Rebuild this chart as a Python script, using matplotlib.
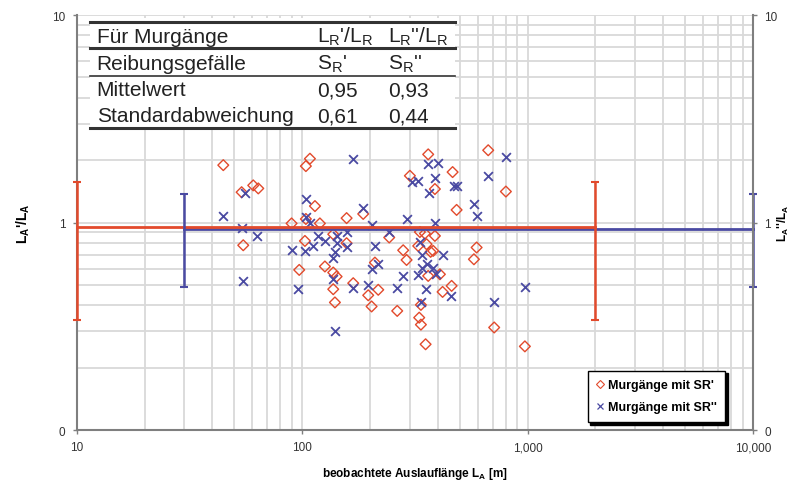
import matplotlib
matplotlib.use('Agg')
import matplotlib.pyplot as plt
from matplotlib.lines import Line2D
from matplotlib.patches import Rectangle

plt.rcParams['font.family'] = ['Liberation Sans', 'DejaVu Sans']

# ---------------- data ----------------
# Murgänge mit SR'  (L_R'/L_A)
sr1_x = [44.7, 53.9, 60.7, 63.9, 54.8, 103.9, 108.3, 114.0, 89.8, 119.9, 103.9,
         157.5, 186.6, 243.4, 300.6, 362.4, 388.1, 465.0, 484.4, 668.9, 801.3,
         102.9, 137.4, 157.5, 97.1, 126.2, 137.4, 142.2, 137.4, 168.5, 139.8,
         210.3, 217.6, 196.4, 203.3, 264.1, 280.7, 290.6, 333.0, 350.4, 327.3,
         356.5, 388.1, 371.4, 381.4, 362.4, 408.4, 419.8, 460.3, 336.4, 330.6,
         336.4, 352.9, 594.2, 578.1, 711.0, 972.9]
sr1_y = [1.89, 1.40, 1.51, 1.46, 0.777, 1.87, 2.03, 1.20, 0.99, 0.99, 1.04,
         1.05, 1.10, 0.847, 1.68, 2.13, 1.45, 1.75, 1.15, 2.23, 1.41,
         0.815, 0.878, 0.795, 0.591, 0.614, 0.574, 0.549, 0.477, 0.510, 0.412,
         0.641, 0.474, 0.446, 0.394, 0.375, 0.735, 0.660, 0.90, 0.885, 0.771,
         0.786, 0.862, 0.722, 0.730, 0.553, 0.563, 0.463, 0.495, 0.401, 0.348,
         0.322, 0.259, 0.758, 0.665, 0.312, 0.253]

# Murgänge mit SR''  (L_R''/L_A)
sr2_x = [44.7, 55.8, 53.9, 62.8, 54.8, 168.5, 103.9, 103.9, 108.3, 186.6,
         203.3, 243.4, 290.6, 305.9, 327.3, 362.4, 401.4, 388.1, 366.1, 470.0,
         485.0, 669.0, 801.0, 578.0, 594.0, 388.0, 89.8, 102.9, 112.0, 117.9,
         126.2, 142.2, 157.5, 158.5, 142.2, 139.8, 137.4, 210.3, 217.6, 203.3,
         136.6, 96.1, 168.5, 139.8, 196.4, 262.5, 280.7, 333.0, 338.8, 419.8,
         356.5, 338.8, 381.4, 392.0, 327.3, 354.0, 455.5, 336.4, 972.9, 711.0]
sr2_y = [1.08, 1.38, 0.946, 0.862, 0.523, 2.02, 1.30, 1.06, 1.00, 1.17,
         0.97, 0.90, 1.04, 1.56, 1.59, 1.91, 1.93, 1.63, 1.39, 1.50,
         1.50, 1.68, 2.08, 1.23, 1.08, 1.00, 0.735, 0.730, 0.771, 0.862,
         0.815, 0.862, 0.90, 0.758, 0.801, 0.717, 0.678, 0.771, 0.630, 0.596,
         0.537, 0.477, 0.481, 0.300, 0.499, 0.486, 0.553, 0.806, 0.696, 0.696,
         0.630, 0.607, 0.607, 0.563, 0.557, 0.477, 0.443, 0.416, 0.489, 0.416]

mean1, sd1 = 0.95, 0.61
mean2, sd2 = 0.93, 0.44
line1_x = [10, 2000]
line2_x = [30, 10000]

x_ticks = [10, 100, 1000, 10000]
x_ticklabels = ['10', '100', '1,000', '10,000']
y_ticks = [0.1, 1, 10]
y_ticklabels = ['0', '1', '10']

table_col1 = ['Für Murgänge', 'Reibungsgefälle', 'Mittelwert', 'Standardabweichung']
table_col2 = ["L$_\\mathregular{R}$'/L$_\\mathregular{R}$", "S$_\\mathregular{R}$'", '0,95', '0,61']
table_col3 = ["L$_\\mathregular{R}$''/L$_\\mathregular{R}$", "S$_\\mathregular{R}$''", '0,93', '0,44']

legend_labels = ["Murgänge mit SR'", "Murgänge mit SR''"]

RED = '#E24A2C'
BLUE = '#4A4AA2'
GRID = '#D9D9D9'
SPINE = '#7F7F7F'

# ---------------- figure ----------------
fig = plt.figure(figsize=(7.92, 4.85), dpi=100)
ax = fig.add_axes([0.0968, 0.1113, 0.8540, 0.8557])
ax.set_xscale('log')
ax.set_yscale('log')
ax.set_xlim(10, 10000)
ax.set_ylim(0.1, 10)

ax.grid(True, which='both', color=GRID, lw=1.3, zorder=0)
ax.set_axisbelow(True)

# scatter
ax.scatter(sr1_x, sr1_y, marker='D', s=30, facecolors='none', edgecolors=RED,
           linewidths=1.0, zorder=3)
ax.scatter(sr2_x, sr2_y, marker='x', s=40, color=BLUE, linewidths=1.3, zorder=3)

# mean lines
ax.plot(line2_x, [mean2, mean2], color=BLUE, lw=2.0, zorder=4, clip_on=False)
ax.plot(line1_x, [mean1, mean1], color=RED, lw=2.0, zorder=4, clip_on=False)

# std bars
eb1 = ax.errorbar(line1_x, [mean1, mean1], yerr=sd1, fmt='none', ecolor=RED,
                  elinewidth=1.8, capsize=3, capthick=1.5, zorder=5)
eb2 = ax.errorbar(line2_x, [mean2, mean2], yerr=sd2, fmt='none', ecolor=BLUE,
                  elinewidth=1.8, capsize=3, capthick=1.5, zorder=5)
for eb in (eb1, eb2):
    for child in eb.get_children():
        child.set_clip_on(False)

# axes styling
ax.spines['top'].set_visible(False)
ax.spines['right'].set_visible(False)
for s in ['left', 'bottom']:
    ax.spines[s].set_color(SPINE)
    ax.spines[s].set_linewidth(1.5)

ax.set_xticks(x_ticks)
ax.set_xticklabels(x_ticklabels)
ax.set_yticks(y_ticks)
ax.set_yticklabels(y_ticklabels)
ax.tick_params(which='major', length=3, width=1, color=SPINE, labelsize=8.5, pad=5,
               labelcolor='#333333')
ax.tick_params(which='minor', length=0)

ax.set_xlabel('beobachtete Auslauflänge L$_\\mathregular{A}$ [m]', fontsize=8.5,
              fontweight='bold')
ax.xaxis.set_label_coords(0.50, -0.085)
ax.set_ylabel("L$_\\mathregular{A}$'/L$_\\mathregular{A}$", fontsize=10, fontweight='bold')
ax.yaxis.set_label_coords(-0.066, 0.50)

# right axis
ax2 = ax.twinx()
ax2.set_yscale('log')
ax2.set_ylim(0.1, 10)
ax2.set_yticks(y_ticks)
ax2.set_yticklabels(y_ticklabels)
ax2.tick_params(which='major', length=3, width=1, color=SPINE, labelsize=8.5, pad=5,
                labelcolor='#333333')
ax2.tick_params(which='minor', length=0)
for s in ['top', 'left', 'bottom']:
    ax2.spines[s].set_visible(False)
ax2.spines['right'].set_color(SPINE)
ax2.spines['right'].set_linewidth(1.5)
ax2.set_ylabel("L$_\\mathregular{A}$''/L$_\\mathregular{A}$", fontsize=8.5, fontweight='bold')
ax2.yaxis.set_label_coords(1.034, 0.50)

# table box
tx0, tx1 = 0.0197, 0.559
ax.add_patch(Rectangle((tx0, 0.723), tx1 - tx0, 0.270, transform=ax.transAxes,
                       facecolor='white', edgecolor='none', zorder=2))
for yy, lw in [(0.984, 2.2), (0.920, 2.2), (0.852, 1.2), (0.727, 2.2)]:
    ax.add_line(Line2D([tx0, tx1], [yy, yy], transform=ax.transAxes, color='#333333',
                       lw=lw, zorder=2.5))
row_y = [0.949, 0.884, 0.820, 0.757]
col_x = [0.0296, 0.355, 0.4606]
for cx, col in zip(col_x, [table_col1, table_col2, table_col3]):
    for ry, txt in zip(row_y, col):
        ax.text(cx, ry, txt, transform=ax.transAxes, fontsize=15, color='#222222',
                ha='left', va='center', zorder=2.6)

# legend
handles = [Line2D([], [], marker='D', ls='none', markerfacecolor='none',
                  markeredgecolor=RED, markersize=4, markeredgewidth=0.8),
           Line2D([], [], marker='x', ls='none', color=BLUE, markersize=5,
                  markeredgewidth=0.9)]
leg = ax.legend(handles, legend_labels, loc='lower right',
                bbox_to_anchor=(0.959, 0.019), frameon=True, fancybox=False,
                edgecolor='black', framealpha=1, shadow={'color': 'black', 'alpha': 1},
                prop={'size': 9, 'weight': 'bold'}, handlelength=0.6,
                handletextpad=0.3, labelspacing=0.8, borderpad=0.7,
                borderaxespad=0)
leg.get_frame().set_linewidth(1.0)
leg.set_zorder(10)

fig.savefig('out.png', dpi=100)
